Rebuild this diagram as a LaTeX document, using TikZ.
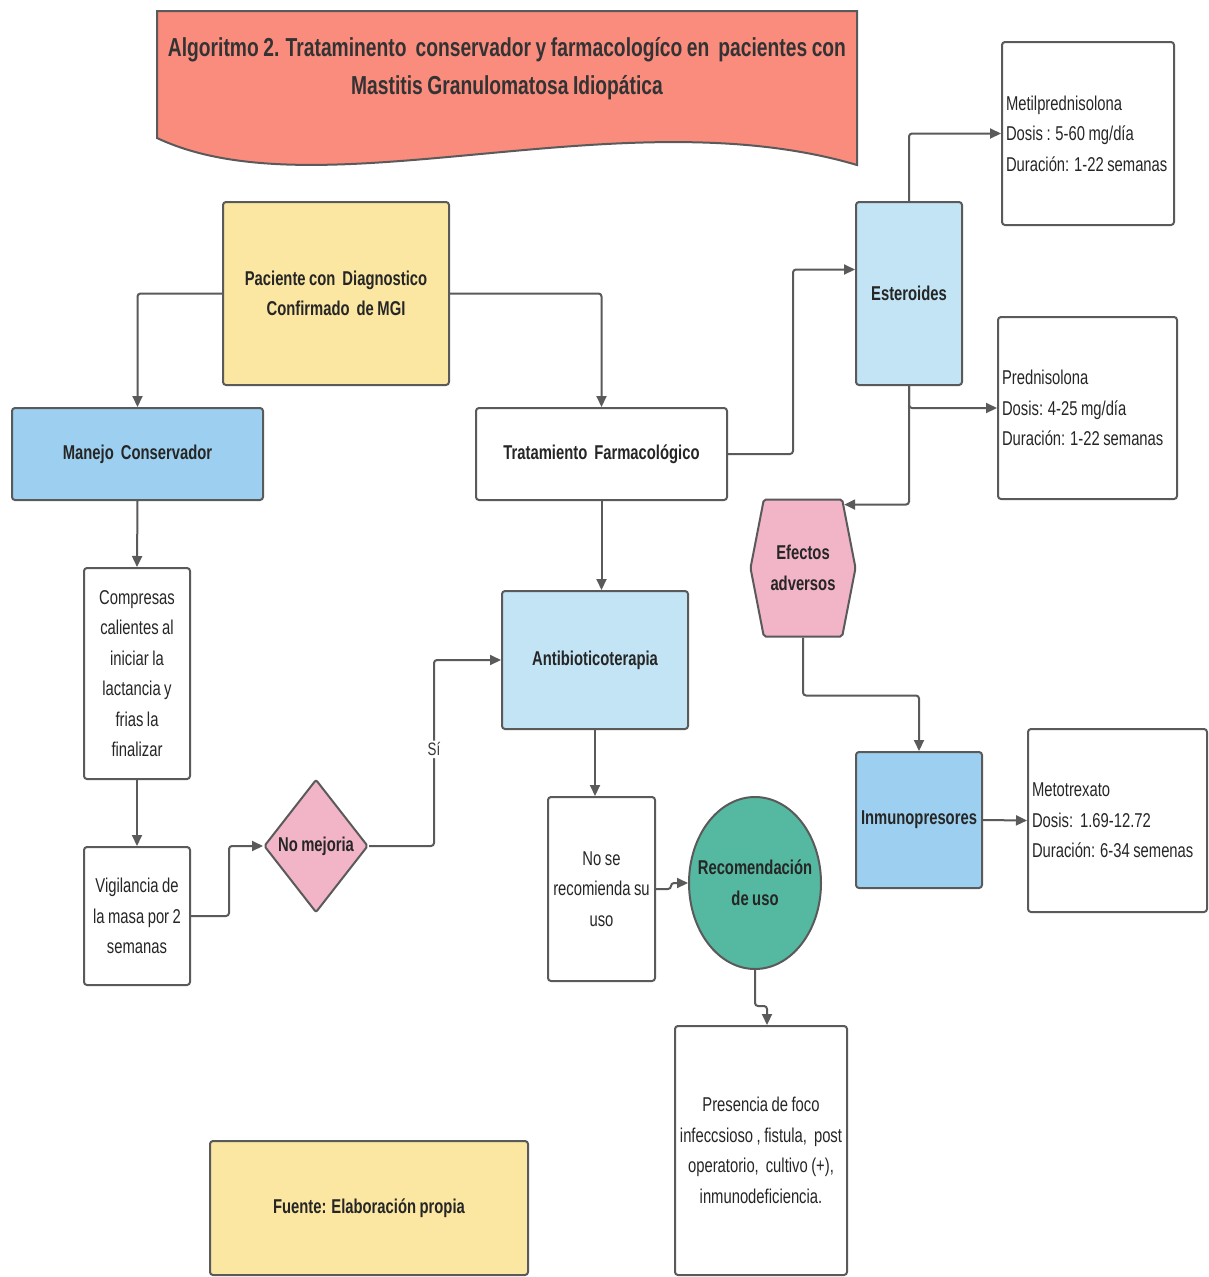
\documentclass[tikz,border=0pt]{standalone}
\usepackage{fontspec}
\setmainfont[FakeStretch=0.74, WordSpace=0.85]{Liberation Sans}
\usepackage{tikz}
\usetikzlibrary{arrows.meta,calc,shapes.geometric,shapes.symbols}
\definecolor{linegray}{HTML}{5A5A5A}
\definecolor{boxyellow}{HTML}{FBE7A1}
\definecolor{boxblue}{HTML}{9DD0F0}
\definecolor{boxlight}{HTML}{C2E4F5}
\definecolor{boxpink}{HTML}{F2B5C8}
\definecolor{boxteal}{HTML}{55B8A0}
\definecolor{titlered}{HTML}{FA8C7E}
\def\bodyfont{\fontsize{20}{30.5}\selectfont}
\tikzset{box/.style args={#1 @ #2:#3}{
  draw=linegray, line width=2pt, rounded corners=3pt, fill=#1,
  minimum width=#2pt, minimum height=#3pt, align=center,
  inner sep=3pt, text=black!85, font=\bodyfont
}}

\begin{document}
\begin{tikzpicture}[x=1pt, y=-1pt,
    flow/.style={draw=linegray, line width=2pt, rounded corners=3pt,
      -{Triangle[length=11pt,width=10pt]}},
    bold/.style={font=\bfseries\bodyfont},
    leftbox/.style={align=flush left, inner xsep=4pt, text width=#1pt}]
    \fill [white] (0,0) rectangle (1209,1277);
    \useasboundingbox (0,0) rectangle (1209,1277);

    % Title banner
    \draw [fill=titlered, draw=linegray, line width=2pt] (157,138) -- (157,11) %
    -- (857,11) -- (857,165) %
    .. controls (620,95) and (320,215) .. (157,138) -- cycle;
    \node [font=\bfseries\fontsize{26}{38}\selectfont, text=black!80, align=center] %
    (title) at (507,69) {Algoritmo 2. Trataminento\ \ conservador y farmacologíco en\ \ pacientes con\\Mastitis Granulomatosa Idiopática};

    % Left branch
    \node [box=boxyellow @ 226:183, bold] (paciente) at (336,293.5) {Paciente con\ \ Diagnostico\\Confirmado\ \ de MGI};
    \node [box=boxblue @ 251:92, bold] (manejo) at (137.5,454) {Manejo\ \ Conservador};
    \node [box=white @ 106:211] (compresas) at (137,673.5) {Compresas\\calientes al\\iniciar la\\lactancia y\\frias la\\finalizar};
    \node [box=white @ 106:138] (vigilancia) at (137,916) {Vigilancia de\\la masa por 2\\semanas};
    \node [box=boxpink @ 104:133, bold, shape=diamond, rounded corners=2pt, inner sep=0pt] (nomejoria) at (316,846) {No mejoria};

    % Middle branch
    \node [box=white @ 251:92, bold] (tratam) at (601.5,454) {Tratamiento\ \ Farmacológico};
    \node [box=boxlight @ 186:138, bold] (antibio) at (595,660) {Antibioticoterapia};
    \node [box=white @ 107:184] (noserec) at (601.5,889) {No se\\recomienda su\\uso};
    \node [box=boxteal @ 132:172, bold, shape=ellipse, inner xsep=-12pt, inner ysep=0pt] (recom) at (755,883) {Recomendación\\de uso};
    \node [box=white @ 172:249] (presencia) at (761,1150.5) {Presencia de foco\\infeccsioso , fistula,\ \ post\\operatorio,\ \ cultivo (+),\\inmunodeficiencia.};
    \node [box=boxyellow @ 318:134, bold] (fuente) at (369,1208) {Fuente: Elaboración propia};

    % Right branch
    \node [box=boxlight @ 106:183, bold] (esteroides) at (909,293.5) {Esteroides};
    \node [box=white @ 172:183, leftbox=164] (metil) at (1088,133.5) {Metilprednisolona\\Dosis : 5-60 mg/día\\Duración: 1-22 semanas};
    \node [box=white @ 179:182, leftbox=171] (predni) at (1087.5,408) {Prednisolona\\Dosis: 4-25 mg/día\\Duración: 1-22 semanas};
    \node [box=boxpink @ 105:137, bold, shape=signal, signal to=east and west, %
    signal pointer angle=158, inner sep=0pt, rounded corners=2pt] (efectos) at (803,568) {Efectos\\adversos};
    \node [box=boxblue @ 126:136, bold] (inmuno) at (919,820) {Inmunopresores};
    \node [box=white @ 179:183, leftbox=171] (metotrex) at (1117.5,820.5) {Metotrexato\\Dosis:\ \ 1.69-12.72\\Duración: 6-34 semenas};

    % Connectors
    \draw [flow] (paciente.west) -| (manejo.north);
    \draw [flow] (paciente.east) -| (tratam.north);
    \draw [flow] (manejo.south) -- (compresas.north);
    \draw [flow] (compresas.south) -- (vigilancia.north);
    \draw [flow] (vigilancia.east) -- ++(38,0) |- (nomejoria.west);
    \draw [flow] (nomejoria.east) -- ++(65,0) |- %
    node [pos=0.26, fill=white, inner sep=2pt, text=black!80, font=\fontsize{18}{20}\selectfont] (si) {Sí} (antibio.west);
    \draw [flow] (tratam.south) -- (tratam.south |- antibio.north);
    \draw [flow] (antibio.south) -- (antibio.south |- noserec.north);
    \draw [flow] (noserec.east) -- ++(15,0) |- (recom.west);
    \draw [flow] (recom.south) -- ++(0,36) -| ($(presencia.north)+(6,0)$);
    \draw [flow] (tratam.east) -- ++(65,0) |- ($(esteroides.west)+(0,-24)$);
    \draw [flow] (esteroides.north) |- (metil.west);
    \draw [flow] (esteroides.south) |- (predni.west);
    \draw [flow] (esteroides.south) |- (efectos.57);
    \draw [flow] (efectos.south) -- ++(0,58) -| (inmuno.north);
    \draw [flow] (inmuno.east) -- (metotrex.west);
\end{tikzpicture}
\end{document}
